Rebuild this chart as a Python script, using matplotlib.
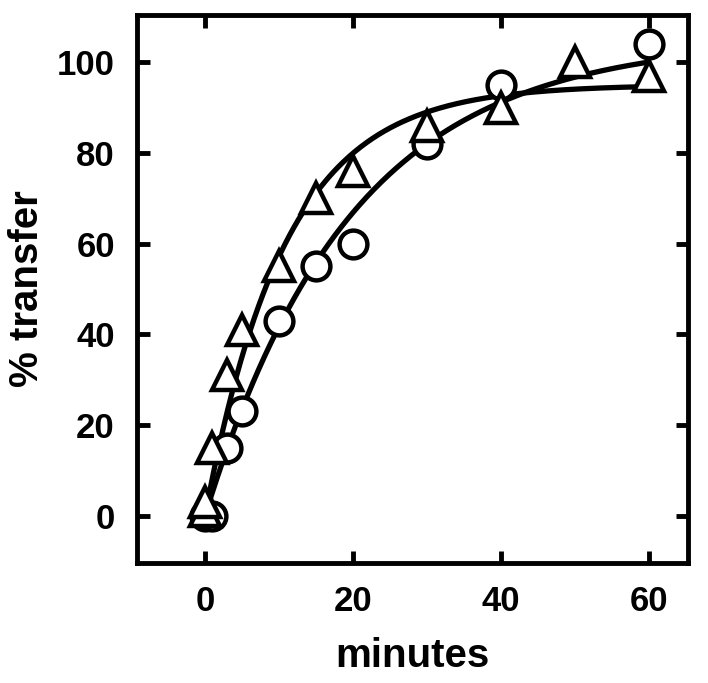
import numpy as np
import matplotlib
matplotlib.use('Agg')
import matplotlib.pyplot as plt

# data
t_circle = [0, 1, 3, 5, 10, 15, 20, 30, 40, 60]
y_circle = [0, 0, 15, 23, 43, 55, 60, 82, 95, 104]

t_tri = [0, 0, 1, 3, 5, 10, 15, 20, 30, 40, 50, 60]
y_tri = [1, 3, 15, 31, 41, 55, 70, 76, 86, 90, 100, 97]

# single exponential fits (plateau, rate per minute)
fit_circle = (105.1, 0.0505)
fit_tri = (95.0, 0.092)

xticks = [0, 20, 40, 60]
yticks = [0, 20, 40, 60, 80, 100]

plt.rcParams['font.family'] = ['Liberation Sans', 'DejaVu Sans']
plt.rcParams['font.weight'] = 'bold'

fig = plt.figure(figsize=(7.08, 6.83), dpi=100)
ax = fig.add_axes([0.1935, 0.176, 0.778, 0.802])

tt = np.linspace(0, 60, 300)
for A, k in (fit_circle, fit_tri):
    ax.plot(tt, A * (1 - np.exp(-k * tt)), color='black', lw=3.8, zorder=2)

ax.plot(t_circle, y_circle, 'o', ms=20, mfc='white', mec='black', mew=3.2, zorder=3)
ax.plot(t_tri, y_tri, '^', ms=22, mfc='white', mec='black', mew=3.2, zorder=3)

ax.set_xlim(-9.2, 65.3)
ax.set_ylim(-10.4, 110.4)
ax.set_xticks(xticks)
ax.set_yticks(yticks)
ax.tick_params(direction='in', length=9, width=3.5, labelsize=25, pad=16,
               top=True, right=True)
for s in ax.spines.values():
    s.set_linewidth(3.5)

ax.set_xlabel('minutes', fontsize=29, fontweight='bold', labelpad=14)
ax.set_ylabel('% transfer', fontsize=29, fontweight='bold', labelpad=8)

fig.savefig('out.png', dpi=100)
